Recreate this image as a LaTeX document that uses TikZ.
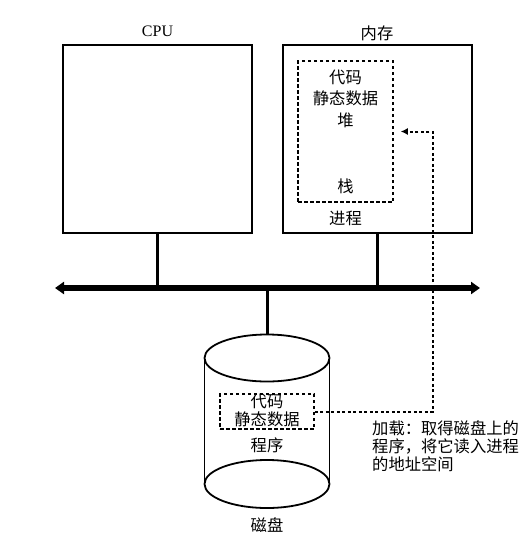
\documentclass[tikz,border=0pt]{standalone}
\usepackage{fontspec}
\setmainfont{Liberation Serif}
\newfontfamily\cjk{Noto Sans CJK SC}
\usetikzlibrary{positioning,calc,arrows.meta}

\begin{document}
\begin{tikzpicture}[
    x=1pt, y=-1pt,
    font=\cjk\fontsize{16.3}{18}\selectfont,
    unit/.style={draw, line width=2pt, minimum width=189pt, minimum height=188pt, inner sep=0pt},
    region/.style={draw, dash pattern=on 3.5pt off 2.5pt, line width=1.5pt, inner sep=0pt},
    caption/.style={inner sep=0pt, align=center},
    link/.style={line width=3pt},
    bus/.style={line width=5.5pt, {Triangle[width=12pt,length=9pt]}-{Triangle[width=12pt,length=9pt]}},
    load/.style={dash pattern=on 3pt off 2.5pt, line width=2pt, -{Latex[length=7pt,width=7pt]}}
]
    \useasboundingbox (0,0) rectangle (529,539);

    % CPU and memory
    \node [unit] (cpu) at (157.5,138.5) {};
    \node [unit] (mem) at (377,138.5) {};
    \node [caption, font=\rmfamily\fontsize{16}{19}\selectfont] (cpu_name) at (157.5,31) {CPU};
    \node [caption] (mem_name) at (377,33) {内存};

    % Process in memory
    \node [region, minimum width=95pt, minimum height=141pt] (proc) at (345.5,131.5) {};
    \node [caption, font=\cjk\fontsize{16.3}{21.5}\selectfont] (proc_top) at (345.5,98.5) {代码\\静态数据\\堆};
    \node [caption] (proc_stack) at (345.5,186) {栈};
    \node [caption] (proc_name) at (345.5,218) {进程};

    % Bus
    \coordinate (busL) at (55,288);
    \coordinate (busR) at (480,288);

    % Disk
    \coordinate (disk) at (267,335);
    \draw [line width=1.8pt] (267,358) ellipse [x radius=62.5pt, y radius=23.5pt];
    \draw [line width=1.8pt] (267,484) ellipse [x radius=62.5pt, y radius=24pt];
    \draw [line width=1.8pt] (204.5,358) -- (204.5,484);
    \draw [line width=1.8pt] (329.5,358) -- (329.5,484);
    \node [region, minimum width=94pt, minimum height=35pt] (prog) at (267,411.5) {};
    \node [caption] (prog_text) at (267,410) {代码\\静态数据};
    \node [caption] (prog_name) at (267,445) {程序};
    \node [caption] (disk_name) at (267,525) {磁盘};

    % Load note
    \node [inner sep=0pt, align=left, anchor=west] (note) at (372,446) {加载：取得磁盘上的\\程序，将它读入进程\\的地址空间};

    % Connections
    \draw [load] (prog.east) -| ([xshift=39pt]proc.east) -- ([xshift=7pt]proc.east);
    \draw [link] (cpu.south) -- (cpu.south |- busL);
    \draw [link] (mem.south) -- (mem.south |- busL);
    \draw [link] (disk) -- (disk |- busL);
    \draw [bus] (busL) -- (busR);

\end{tikzpicture}
\end{document}
